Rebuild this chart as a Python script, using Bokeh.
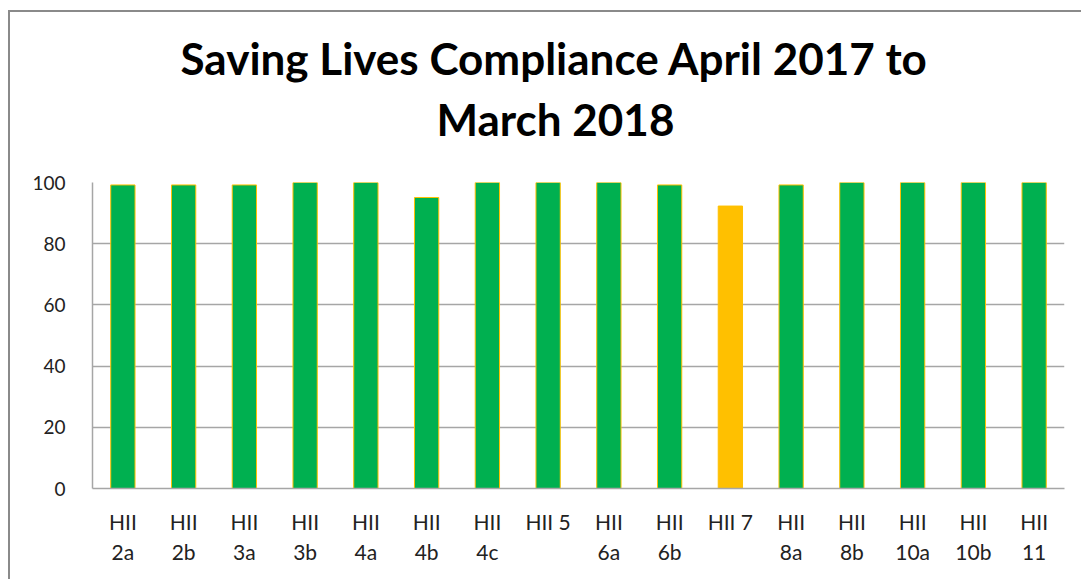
from bokeh.plotting import figure
from bokeh.models import ColumnDataSource, FactorRange, Range1d, FixedTicker, Title
from bokeh.embed import file_html
from bokeh.resources import INLINE

categories = ["HII\n2a", "HII\n2b", "HII\n3a", "HII\n3b", "HII\n4a", "HII\n4b", "HII\n4c", "HII 5",
              "HII\n6a", "HII\n6b", "HII 7", "HII\n8a", "HII\n8b", "HII\n10a", "HII\n10b", "HII\n11"]
values = [99.2, 99.2, 99.2, 100, 100, 95.1, 100, 100, 100, 99.2, 92.3, 99.2, 100, 100, 100, 100]
y_ticks = [0, 20, 40, 60, 80, 100]
title_line1 = "Saving Lives Compliance April 2017 to"
title_line2 = "March 2018"

GREEN = "#00B050"
AMBER = "#FFC000"
bar_colors = [AMBER if c == "HII 7" else GREEN for c in categories]

source = ColumnDataSource(dict(cat=categories, val=values, color=bar_colors))

FONT = "Lato"

p = figure(x_range=FactorRange(*categories), y_range=Range1d(0, 100),
           width=1073, height=569, output_backend="svg", toolbar_location=None,
           min_border_left=82, min_border_right=19, min_border_top=170, min_border_bottom=93)
p.margin = (10, 0, 0, 8)
p.styles = {"border-left": "2px solid #8a8a8a", "border-top": "2px solid #8a8a8a"}

p.vbar(x="cat", top="val", width=0.4, source=source, fill_color="color",
       line_color=AMBER, line_width=1)

# spacer between plot frame and title lines
p.add_layout(Title(text=" ", text_font=FONT, text_font_size="10px", standoff=19), "above")
p.add_layout(Title(text=title_line2, align="left", offset=344, text_font=FONT,
                   text_font_size="44px", text_font_style="bold", text_color="#000000",
                   standoff=10), "above")
p.add_layout(Title(text=title_line1, align="left", offset=88, text_font=FONT,
                   text_font_size="44px", text_font_style="bold", text_color="#000000",
                   standoff=4), "above")

p.x_range.range_padding = 0
p.yaxis.ticker = FixedTicker(ticks=y_ticks)
p.xgrid.grid_line_color = None
p.ygrid.grid_line_color = "#a6a6a6"
p.ygrid.grid_line_width = 1.5
p.outline_line_color = None

for ax in (p.xaxis, p.yaxis):
    ax.axis_line_color = "#a6a6a6"
    ax.axis_line_width = 1.5
    ax.major_tick_line_color = None
    ax.minor_tick_line_color = None
    ax.major_label_text_font = FONT
    ax.major_label_text_color = "#222222"

p.yaxis.major_label_text_font_size = "19px"
p.xaxis.major_label_text_font_size = "21px"
p.yaxis.major_label_standoff = 21
p.xaxis.major_label_standoff = 14

open("out.html", "w").write(file_html(p, INLINE))
